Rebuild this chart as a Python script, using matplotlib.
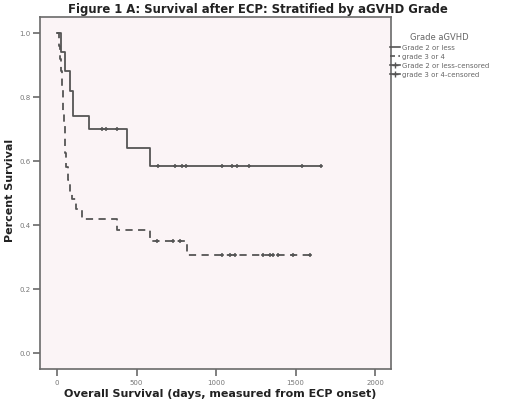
import matplotlib
matplotlib.use("Agg")
import matplotlib.pyplot as plt
from matplotlib.lines import Line2D
import numpy as np

# Grade 2 or less: step times (days) and survival
g2_days = [0, 6, 25, 50, 82, 100, 200, 440, 585, 1660]
g2_surv = [1.0, 1.0, 0.94, 0.88, 0.82, 0.74, 0.70, 0.64, 0.584, 0.584]
g2_cens_days = [283, 308, 377, 635, 742, 786, 811, 1038, 1100, 1132, 1208, 1541, 1660]
g2_cens_surv = [0.70, 0.70, 0.70, 0.584, 0.584, 0.584, 0.584, 0.584, 0.584, 0.584, 0.584, 0.584, 0.584]

# grade 3 or 4
g3_days = [0, 12, 18, 24, 30, 36, 40, 44, 48, 52, 58, 68, 82, 94, 120, 157, 380, 585, 820, 1610]
g3_surv = [1.0, 0.96, 0.92, 0.88, 0.83, 0.79, 0.75, 0.71, 0.67, 0.625, 0.58, 0.54, 0.50, 0.48,
           0.45, 0.42, 0.385, 0.35, 0.305, 0.305]
g3_cens_days = [629, 730, 774, 1038, 1088, 1120, 1296, 1340, 1358, 1390, 1484, 1591]
g3_cens_surv = [0.35, 0.35, 0.35, 0.305, 0.305, 0.305, 0.305, 0.305, 0.305, 0.305, 0.305, 0.305]

x_ticks = [0, 500, 1000, 1500, 2000]
y_ticks = [0.0, 0.2, 0.4, 0.6, 0.8, 1.0]
y_tick_labels = ["0.0", "0.2", "0.4", "0.6", "0.8", "1.0"]

line_col = "#555555"
frame_col = "#6a6a6a"

fig = plt.figure(figsize=(5.2, 4.1), dpi=100)
ax = fig.add_axes([40/520, 1-370/410, (391-40)/520, (370-18)/410])
ax.set_facecolor("#fbf4f6")

ax.step(g2_days, g2_surv, where="post", color=line_col, lw=1.3)
ax.step(g3_days, g3_surv, where="post", color=line_col, lw=1.3, dashes=(4, 3))
ax.plot(g2_cens_days, g2_cens_surv, ls="none", marker="+", ms=3.5, mew=1.1, color=line_col)
ax.plot(g3_cens_days, g3_cens_surv, ls="none", marker="+", ms=3.5, mew=1.1, color=line_col)

ax.set_xlim(-107, 2100)
ax.set_ylim(-0.05, 1.05)
ax.set_xticks(x_ticks)
ax.set_xticklabels([str(v) for v in x_ticks])
ax.set_yticks(y_ticks)
ax.set_yticklabels(y_tick_labels)
ax.tick_params(axis="both", labelsize=5, colors=frame_col, length=5, width=1.2,
               labelcolor="#777777", pad=2)
for s in ax.spines.values():
    s.set_color(frame_col)
    s.set_linewidth(1.2)

fig.text(220/520, 1-394/410, "Overall Survival (days, measured from ECP onset)", fontsize=8,
         fontweight="bold", ha="center", va="center", color="#222222")
fig.text(10/520, 1-190/410, "Percent Survival", fontsize=8, fontweight="bold",
         rotation=90, ha="center", va="center", color="#222222")
fig.text(258/520, 1-9/410, "Figure 1 A: Survival after ECP: Stratified by aGVHD Grade",
         ha="center", va="center", fontsize=8.4, fontweight="bold", color="#222222")

handles = [
    Line2D([], [], color=line_col, lw=1.2),
    Line2D([], [], color=line_col, lw=1.2, dashes=(3, 2)),
    Line2D([], [], color=line_col, lw=1.2, marker="+", ms=4),
    Line2D([], [], color=line_col, lw=1.2, marker="+", ms=4),
]
labels = ["Grade 2 or less", "grade 3 or 4", "Grade 2 or less-censored", "grade 3 or 4-censored"]
leg = fig.legend(handles, labels, title="Grade aGVHD", loc="upper left",
                 bbox_to_anchor=(390/520, 1-33/410), frameon=False, fontsize=5,
                 title_fontsize=6, handlelength=1.4, handletextpad=0.3,
                 labelspacing=0.45, borderaxespad=0, borderpad=0)
for t in leg.get_texts():
    t.set_color("#666666")
leg.get_title().set_color("#666666")

fig.savefig("out.png", dpi=100)
